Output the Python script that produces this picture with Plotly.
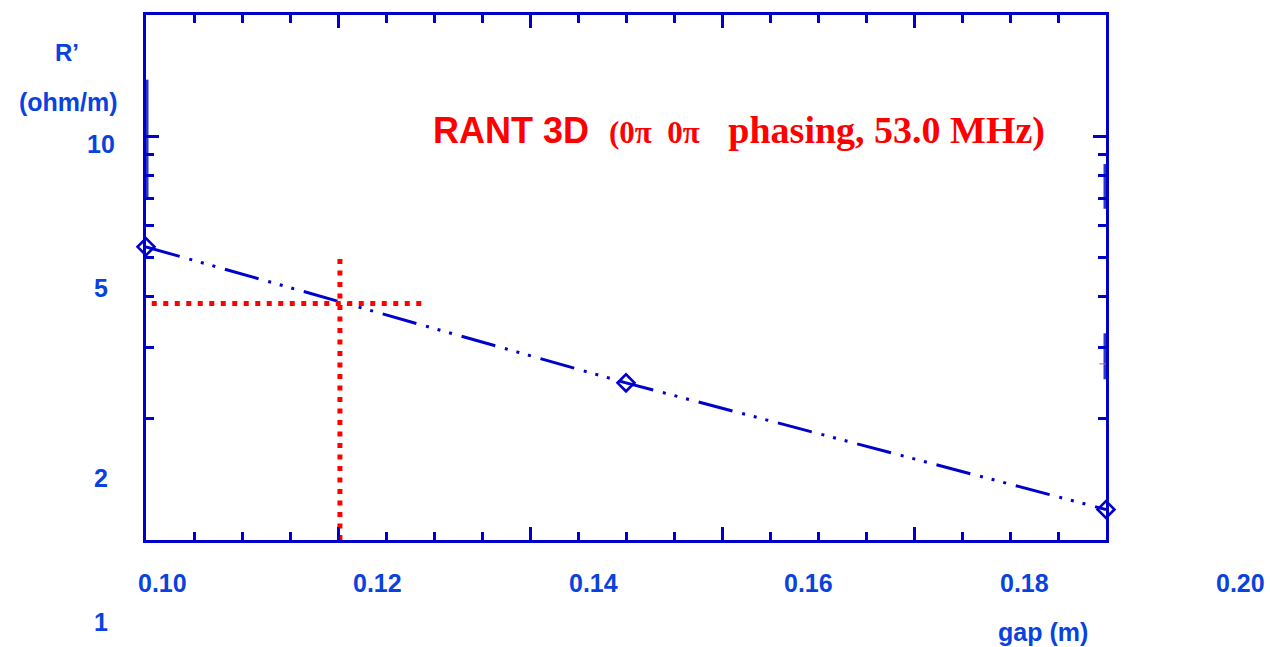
import math
import plotly.graph_objects as go

# ---------------- data ----------------
gap_m = [0.10, 0.15, 0.20]
r_prime = [5.32, 2.45, 1.19]

guide_h_x = [0.1006, 0.129]
guide_h_y = [3.85, 3.85]
guide_v_x = [0.1202, 0.1202]
guide_v_y = [1.0, 5.0]

# thick highlight segments seen on the frame
hl_x = [0.10, 0.10, None, 0.20, 0.20, None, 0.20, 0.20]
hl_y = [6.99, 13.8, None, 6.61, 8.53, None, 2.50, 3.25]
red_mark_x = [0.1993, 0.2008]
red_mark_y = [2.73, 2.73]

x_tick_labels = ["0.10", "0.12", "0.14", "0.16", "0.18", "0.20"]
x_tick_values = [0.10, 0.12, 0.14, 0.16, 0.18, 0.20]
y_tick_labels = ["10", "5", "2", "1"]
y_tick_values = [10, 5, 2, 1]
y_minor_values = [2, 3, 4, 5, 6, 7, 8, 9]

# ---------------- styling ----------------
W, H = 1270, 647
PL, PR, PT, PB = 146, 1106, 12, 540      # plot box in pixels
AXIS = "#0000CC"
TXT = "#0A42E0"
RED = "#FF0000"
SANS = "Liberation Sans, Arial, sans-serif"


def px_x(px):
    return (px - PL) / (PR - PL)


def px_y(py):
    return (PB - py) / (PB - PT)


fig = go.Figure()

fig.add_trace(go.Scatter(
    x=hl_x, y=hl_y, mode="lines", line=dict(color="#2B35C8", width=5),
    cliponaxis=False, showlegend=False, hoverinfo="skip"))
fig.add_trace(go.Scatter(
    x=red_mark_x, y=red_mark_y, mode="lines", line=dict(color="#FF5050", width=1),
    cliponaxis=False, showlegend=False, hoverinfo="skip"))

fig.add_trace(go.Scatter(
    x=gap_m, y=r_prime, mode="lines+markers",
    line=dict(color=AXIS, width=3, dash="35px,10px,3px,9px,3px,9px,3px,10px"),
    marker=dict(symbol="diamond-open", size=13, color=AXIS, line=dict(width=2.6, color=AXIS)),
    cliponaxis=False, showlegend=False, hoverinfo="skip"))

fig.add_trace(go.Scatter(
    x=guide_h_x, y=guide_h_y, mode="lines",
    line=dict(color=RED, width=5, dash="5px,6.5px"),
    showlegend=False, hoverinfo="skip"))
fig.add_trace(go.Scatter(
    x=guide_v_x, y=guide_v_y, mode="lines",
    line=dict(color=RED, width=5, dash="5px,6.5px"),
    showlegend=False, hoverinfo="skip"))

annotations = []
# x tick labels (stretched text layer, as in the original)
for i, lab in enumerate(x_tick_labels):
    annotations.append(dict(
        text="<b>%s</b>" % lab, x=px_x(162 + 215.6 * i), y=px_y(583),
        xref="paper", yref="paper", xanchor="center", yanchor="middle",
        showarrow=False, font=dict(family=SANS, size=25, color=TXT)))
# y tick labels
for v, lab in zip(y_tick_values, y_tick_labels):
    py = 142 + 480 * (1 - math.log10(v))
    annotations.append(dict(
        text="<b>%s</b>" % lab, x=px_x(101), y=px_y(py),
        xref="paper", yref="paper", xanchor="center", yanchor="middle",
        showarrow=False, font=dict(family=SANS, size=25, color=TXT)))
# axis titles
annotations.append(dict(text="<b>R\u2019</b>", x=px_x(67), y=px_y(50),
                        xref="paper", yref="paper", xanchor="center", yanchor="middle",
                        showarrow=False, font=dict(family=SANS, size=24, color=TXT)))
annotations.append(dict(text="<b>(ohm/m)</b>", x=px_x(68), y=px_y(100),
                        xref="paper", yref="paper", xanchor="center", yanchor="middle",
                        showarrow=False, font=dict(family=SANS, size=25, color=TXT)))
annotations.append(dict(text="<b>gap (m)</b>", x=px_x(1043), y=px_y(633),
                        xref="paper", yref="paper", xanchor="center", yanchor="middle",
                        showarrow=False, font=dict(family=SANS, size=25, color=TXT)))
# title inside the plot
title_html = ("<b>RANT 3D</b>\u00a0\u00a0"
              "<span style='font-family:Liberation Serif, Times New Roman, serif;font-size:31px'>"
              "<b>(0\u03c0\u00a0\u00a00\u03c0</b></span>"
              "<span style='font-family:Liberation Serif, Times New Roman, serif;font-size:38px'>"
              "<b>\u00a0\u00a0\u00a0phasing, 53.0 MHz)</b></span>")
annotations.append(dict(text=title_html, x=px_x(431), y=px_y(128),
                        xref="paper", yref="paper", xanchor="left", yanchor="middle",
                        showarrow=False, font=dict(family=SANS, size=36, color=RED)))

fig.update_layout(
    width=W, height=H, autosize=False,
    margin=dict(l=PL, r=W - PR, t=PT, b=H - PB, pad=0),
    paper_bgcolor="white", plot_bgcolor="white",
    showlegend=False, annotations=annotations,
    xaxis=dict(range=[0.10, 0.20], showline=True, linecolor=AXIS, linewidth=3, mirror="ticks",
               tickmode="array", tickvals=x_tick_values, ticks="inside", ticklen=13, tickwidth=2.5,
               tickcolor=AXIS, showticklabels=False, showgrid=False, zeroline=False,
               minor=dict(ticks="inside", ticklen=8, tickwidth=2.5, tickcolor=AXIS,
                          tick0=0.10, dtick=0.005, showgrid=False)),
    yaxis=dict(type="log", range=[0, 1.3], showline=True, linecolor=AXIS, linewidth=3, mirror="ticks",
               tickmode="array", tickvals=[1, 10], ticks="inside", ticklen=13, tickwidth=2.5,
               tickcolor=AXIS, showticklabels=False, showgrid=False, zeroline=False,
               minor=dict(ticks="inside", ticklen=8, tickwidth=2.5, tickcolor=AXIS,
                          tickmode="array", tickvals=y_minor_values, showgrid=False)),
)

fig.write_html("out.html", config={"displayModeBar": False},
               post_script="document.body.style.margin='0px';document.body.style.overflow='hidden';")
